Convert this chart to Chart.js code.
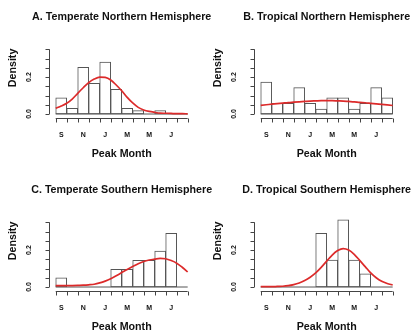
<!DOCTYPE html>
<html>
<head>
<meta charset="utf-8">
<script src="https://cdn.jsdelivr.net/npm/chart.js@4.4.0/dist/chart.umd.min.js"></script>
<style>
  html, body { margin: 0; padding: 0; background: #fff; overflow: hidden; }
  #wrap { position: relative; width: 414px; height: 331px; overflow: hidden; }
  canvas { position: absolute; }
</style>
</head>
<body>
<div id="wrap">
  <canvas id="chartA" width="222" height="165" style="left:0px;top:0px"></canvas>
  <canvas id="chartB" width="222" height="165" style="left:205px;top:0px"></canvas>
  <canvas id="chartC" width="222" height="165" style="left:0px;top:173px"></canvas>
  <canvas id="chartD" width="222" height="165" style="left:205px;top:173px"></canvas>
</div>
<script>
// months run Sep..Aug, one histogram bin per month
const monthCenters = [0.5, 1.5, 2.5, 3.5, 4.5, 5.5, 6.5, 7.5, 8.5, 9.5, 10.5, 11.5];
const monthTicks = [0, 1, 2, 3, 4, 5, 6, 7, 8, 9, 10, 11, 12];
const monthLabelPos = [0.5, 2.5, 4.5, 6.5, 8.5, 10.5];
const monthLabels = ['S', 'N', 'J', 'M', 'M', 'J'];
const densityTicks = [0, 0.05, 0.1, 0.15, 0.2, 0.25, 0.3, 0.35];
const densityLabelPos = [0, 0.2];
const densityLabels = ['0.0', '0.2'];
const curveX = [0, 0.5, 1, 1.5, 2, 2.5, 3, 3.5, 4, 4.5, 5, 5.5, 6, 6.5, 7, 7.5, 8, 8.5, 9, 9.5, 10, 10.5, 11, 11.5, 12];

const titles = [
  'A. Temperate Northern Hemisphere',
  'B. Tropical Northern Hemisphere',
  'C. Temperate Southern Hemisphere',
  'D. Tropical Southern Hemisphere'
];

const barsA = [0.088, 0.031, 0.252, 0.166, 0.281, 0.133, 0.031, 0.018, 0, 0.018, 0, 0];
const curveA = [0.031, 0.043, 0.058, 0.081, 0.112, 0.142, 0.170, 0.189, 0.200, 0.198, 0.184, 0.157, 0.126,
                0.090, 0.060, 0.036, 0.022, 0.014, 0.009, 0.005, 0.004, 0.003, 0.002, 0.002, 0.001];

const barsB = [0.173, 0.058, 0.058, 0.143, 0.058, 0.027, 0.087, 0.087, 0.027, 0.058, 0.143, 0.087];
const curveB = [0.047, 0.050, 0.053, 0.056, 0.059, 0.062, 0.064, 0.066, 0.068, 0.070, 0.071, 0.072, 0.072,
                0.072, 0.071, 0.070, 0.068, 0.066, 0.063, 0.061, 0.058, 0.055, 0.052, 0.049, 0.046];

const barsC = [0.049, 0, 0, 0, 0, 0.096, 0.096, 0.144, 0.144, 0.195, 0.290, 0];
const curveC = [0.007, 0.007, 0.007, 0.008, 0.009, 0.010, 0.012, 0.015, 0.022, 0.032, 0.045, 0.061, 0.078,
                0.095, 0.111, 0.126, 0.138, 0.146, 0.151, 0.155, 0.153, 0.143, 0.129, 0.107, 0.082];

const barsD = [0, 0, 0, 0, 0, 0.290, 0.146, 0.364, 0.146, 0.071, 0, 0];
const curveD = [0.002, 0.002, 0.002, 0.003, 0.004, 0.007, 0.013, 0.022, 0.035, 0.053, 0.076, 0.106, 0.140,
                0.173, 0.197, 0.208, 0.200, 0.177, 0.144, 0.110, 0.076, 0.050, 0.031, 0.019, 0.011];

const FONT = '"Liberation Sans", Arial, Helvetica, sans-serif';

// base-graphics style axes: detached lines, ticks outside, sparse labels
const rAxes = {
  id: 'rAxes',
  afterDraw(chart, args, opts) {
    const ctx = chart.ctx;
    const x = chart.scales.x, y = chart.scales.y, area = chart.chartArea;
    ctx.save();
    ctx.strokeStyle = '#444';
    ctx.lineWidth = 1;
    ctx.beginPath();
    const xa = Math.round(area.bottom) + 0.5;
    ctx.moveTo(x.getPixelForValue(monthTicks[0]), xa);
    ctx.lineTo(x.getPixelForValue(monthTicks[monthTicks.length - 1]), xa);
    monthTicks.forEach(v => {
      const px = Math.round(x.getPixelForValue(v)) + 0.5;
      ctx.moveTo(px, xa);
      ctx.lineTo(px, xa + 4);
    });
    const ya = Math.round(area.left) - 0.5;
    ctx.moveTo(ya, y.getPixelForValue(densityTicks[0]));
    ctx.lineTo(ya, y.getPixelForValue(densityTicks[densityTicks.length - 1]));
    densityTicks.forEach(v => {
      const py = Math.round(y.getPixelForValue(v)) + 0.5;
      ctx.moveTo(ya, py);
      ctx.lineTo(ya - 4, py);
    });
    ctx.stroke();

    ctx.fillStyle = '#111';
    ctx.textAlign = 'center';
    ctx.font = 'bold 7px ' + FONT;
    ctx.textBaseline = 'alphabetic';
    monthLabelPos.forEach((v, i) => ctx.fillText(monthLabels[i], x.getPixelForValue(v), 136.5));
    ctx.textBaseline = 'middle';
    densityLabelPos.forEach((v, i) => {
      ctx.save();
      ctx.translate(29, y.getPixelForValue(v));
      ctx.rotate(-Math.PI / 2);
      ctx.fillText(densityLabels[i], 0, 0);
      ctx.restore();
    });

    const cx = (area.left + area.right) / 2;
    ctx.font = 'bold 10.7px ' + FONT;
    ctx.textBaseline = 'alphabetic';
    ctx.fillText(opts.title, cx, 20);
    ctx.fillText('Peak Month', cx, 157);
    ctx.save();
    ctx.translate(13.5, (area.top + area.bottom) / 2);
    ctx.rotate(-Math.PI / 2);
    ctx.textBaseline = 'middle';
    ctx.fillText('Density', 0, 0);
    ctx.restore();
    ctx.restore();
  }
};

function makePanel(id, title, bars, curve) {
  const ctx = document.getElementById(id).getContext('2d');
  return new Chart(ctx, {
    type: 'bar',
    data: {
      datasets: [
        {
          type: 'line',
          data: curveX.map((m, i) => ({ x: m, y: curve[i] })),
          borderColor: '#dc2a2a',
          borderWidth: 1.7,
          pointRadius: 0,
          cubicInterpolationMode: 'monotone',
          order: 0
        },
        {
          type: 'line',
          data: [{ x: monthTicks[0], y: 0 }, { x: monthTicks[12], y: 0 }],
          borderColor: '#555',
          borderWidth: 1,
          pointRadius: 0,
          order: 1
        },
        {
          data: monthCenters.map((m, i) => ({ x: m, y: bars[i] })),
          backgroundColor: '#fff',
          borderColor: '#555',
          borderWidth: 1,
          borderSkipped: false,
          barPercentage: 1,
          categoryPercentage: 1,
          order: 2
        }
      ]
    },
    options: {
      responsive: false,
      animation: false,
      events: [],
      devicePixelRatio: 1,
      layout: {
        padding: { left: 50, right: 28.6, top: 17.9, bottom: 47 }
      },
      plugins: {
        legend: { display: false },
        tooltip: { enabled: false },
        rAxes: { title: title }
      },
      scales: {
        x: { type: 'linear', min: -0.52, max: 12.52, offset: false, display: false },
        y: { type: 'linear', min: -0.0216, max: 0.52, display: false }
      }
    },
    plugins: [rAxes]
  });
}

makePanel('chartA', titles[0], barsA, curveA);
makePanel('chartB', titles[1], barsB, curveB);
makePanel('chartC', titles[2], barsC, curveC);
makePanel('chartD', titles[3], barsD, curveD);
</script>
</body>
</html>
